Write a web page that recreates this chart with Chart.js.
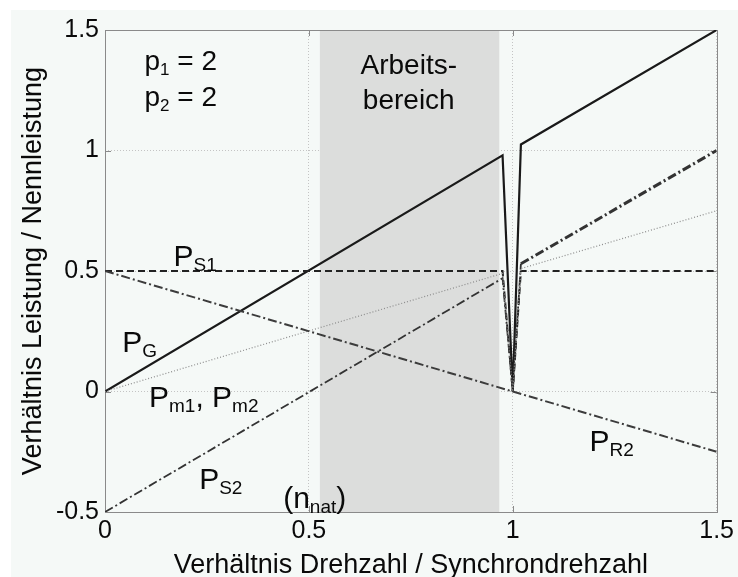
<!DOCTYPE html>
<html>
<head>
<meta charset="utf-8">
<script src="https://cdn.jsdelivr.net/npm/chart.js@4"></script>
<style>
  html, body { margin: 0; padding: 0; background: #ffffff; }
  #wrap { width: 738px; height: 577px; position: relative; }
</style>
</head>
<body>
<div id="wrap"><canvas id="leistungChart"></canvas></div>
<script>
// Drehzahl-Verhaeltnis (x) und Leistungs-Verhaeltnis (y) je Kurve
const xTicks = [0, 0.5, 1, 1.5];
const yTicks = [-0.5, 0, 0.5, 1, 1.5];

const nDip = [0, 0.975, 1.0, 1.02, 1.5];
const pG   = [0, 0.98, 0, 1.025, 1.5];
const pS1  = [0.5, 0.5, 0, 0.5, 0.5];
const pM   = [0, 0.49, 0, 0.51, 0.75];
const pS2  = [-0.5, 0.47, 0, 0.53, 1.0];

const nR2  = [0, 1.0, 1.5];
const pR2  = [0.5, 0, -0.25];

const workRange = [0.527, 0.967];  // Arbeitsbereich

const FONT = '"Liberation Sans", Arial, sans-serif';

function pts(xs, ys) {
    return xs.map((x, i) => ({ x: x, y: ys[i] }));
}

// Beschriftungen im Diagramm (y = Mitte der Grossbuchstaben)
const labels = [
    { x: 0.097, y: 1.375, size: 28, parts: [['p'], ['1', true], [' = 2']] },
    { x: 0.097, y: 1.225, size: 28, parts: [['p'], ['2', true], [' = 2']] },
    { x: 0.745, y: 1.36, size: 28, parts: [['Arbeits-']], center: true },
    { x: 0.745, y: 1.215, size: 28, parts: [['bereich']], center: true },
    { x: 0.168, y: 0.565, size: 30, parts: [['P'], ['S1', true]] },
    { x: 0.042, y: 0.21, size: 30, parts: [['P'], ['G', true]] },
    { x: 0.108, y: -0.02, size: 30, parts: [['P'], ['m1', true], [', P'], ['m2', true]] },
    { x: 0.231, y: -0.36, size: 30, parts: [['P'], ['S2', true]] },
    { x: 0.437, y: -0.44, size: 30, parts: [['(n'], ['nat', true], [')']] },
    { x: 1.188, y: -0.2, size: 30, parts: [['P'], ['R2', true]] }
];

const bgPlugin = {
    id: 'bgPlugin',
    beforeDraw(chart) {
        const ctx = chart.ctx;
        ctx.save();
        ctx.fillStyle = '#ffffff';
        ctx.fillRect(0, 0, chart.width, chart.height);
        ctx.fillStyle = '#f5f9f7';
        ctx.fillRect(11, 10, chart.width - 11, chart.height - 10);
        ctx.restore();
    },
    beforeDatasetsDraw(chart) {
        const ctx = chart.ctx;
        const a = chart.chartArea;
        const xs = chart.scales.x, ys = chart.scales.y;
        ctx.save();
        // Arbeitsbereich
        const x0 = xs.getPixelForValue(workRange[0]);
        const x1 = xs.getPixelForValue(workRange[1]);
        ctx.fillStyle = '#dcdddc';
        ctx.fillRect(x0, a.top, x1 - x0, a.bottom - a.top);

        // Rahmen
        ctx.strokeStyle = '#8a8a8a';
        ctx.lineWidth = 1;
        ctx.strokeRect(Math.round(a.left) + 0.5, Math.round(a.top) + 0.5,
            Math.round(a.right - a.left), Math.round(a.bottom - a.top));

        // Innenliegende Striche
        ctx.beginPath();
        xTicks.forEach(v => {
            const px = Math.round(xs.getPixelForValue(v)) + 0.5;
            ctx.moveTo(px, a.bottom); ctx.lineTo(px, a.bottom - 6);
            ctx.moveTo(px, a.top); ctx.lineTo(px, a.top + 6);
        });
        yTicks.forEach(v => {
            const py = Math.round(ys.getPixelForValue(v)) + 0.5;
            ctx.moveTo(a.left, py); ctx.lineTo(a.left + 6, py);
            ctx.moveTo(a.right, py); ctx.lineTo(a.right - 6, py);
        });
        ctx.stroke();
        ctx.restore();
    },
    afterDatasetsDraw(chart) {
        const ctx = chart.ctx;
        const xs = chart.scales.x, ys = chart.scales.y;
        ctx.save();
        ctx.fillStyle = '#0a0a0a';
        ctx.textBaseline = 'alphabetic';
        labels.forEach(l => {
            const subSize = Math.round(l.size * 0.62);
            let px = xs.getPixelForValue(l.x);
            const base = ys.getPixelForValue(l.y) + l.size * 0.36;
            let total = 0;
            l.parts.forEach(p => {
                ctx.font = (p[1] ? subSize : l.size) + 'px ' + FONT;
                total += ctx.measureText(p[0]).width;
            });
            if (l.center) px -= total / 2;
            l.parts.forEach(p => {
                ctx.font = (p[1] ? subSize : l.size) + 'px ' + FONT;
                ctx.fillText(p[0], px, p[1] ? base + 5 : base);
                px += ctx.measureText(p[0]).width;
            });
        });
        ctx.restore();
    }
};

const ctx = document.getElementById('leistungChart').getContext('2d');

const chart = new Chart(ctx, {
    type: 'scatter',
    data: {
        datasets: [
            {
                label: 'P_R2',
                data: pts(nR2, pR2),
                showLine: true,
                borderColor: '#3c3c3c',
                borderWidth: 2,
                borderDash: [9, 3, 2, 3],
                pointRadius: 0,
                fill: false
            },
            {
                label: 'P_m',
                data: pts(nDip, pM),
                showLine: true,
                borderColor: '#8c8c8c',
                borderWidth: 1.2,
                borderDash: [1, 2],
                pointRadius: 0,
                fill: false
            },
            {
                label: 'P_S2',
                data: pts(nDip, pS2),
                showLine: true,
                borderColor: '#333333',
                borderWidth: 1.8,
                borderDash: [9, 3, 2, 3],
                segment: {
                    borderWidth: c => c.p0.parsed.x >= 1.01 ? 3 : 1.8
                },
                pointRadius: 0,
                fill: false
            },
            {
                label: 'P_S1',
                data: pts(nDip, pS1),
                showLine: true,
                borderColor: '#222222',
                borderWidth: 2,
                borderDash: [7, 4],
                pointRadius: 0,
                fill: false
            },
            {
                label: 'P_G',
                data: pts(nDip, pG),
                showLine: true,
                borderColor: '#1a1a1a',
                borderWidth: 2.2,
                pointRadius: 0,
                fill: false
            }
        ]
    },
    options: {
        responsive: true,
        maintainAspectRatio: false,
        animation: false,
        layout: { padding: { left: 0, right: 19, top: 30, bottom: 0 } },
        plugins: {
            legend: { display: false },
            tooltip: { enabled: false }
        },
        scales: {
            x: {
                type: 'linear',
                min: 0,
                max: 1.5,
                afterBuildTicks: s => { s.ticks = xTicks.map(v => ({ value: v })); },
                afterFit: s => { s.height = 65; },
                grid: {
                    color: '#c4c4c4',
                    lineWidth: 1,
                    drawTicks: false
                },
                border: { display: false, dash: [1, 2] },
                ticks: {
                    padding: 4,
                    color: '#0a0a0a',
                    font: { family: FONT, size: 25 },
                    maxRotation: 0,
                    callback: v => String(v)
                },
                title: {
                    display: true,
                    text: 'Verhältnis Drehzahl / Synchrondrehzahl',
                    color: '#0a0a0a',
                    font: { family: FONT, size: 27 },
                    padding: { top: 0, bottom: -5 }
                }
            },
            y: {
                type: 'linear',
                min: -0.5,
                max: 1.5,
                afterBuildTicks: s => { s.ticks = yTicks.map(v => ({ value: v })); },
                afterFit: s => { s.width = 105; },
                grid: {
                    color: '#c4c4c4',
                    lineWidth: 1,
                    drawTicks: false
                },
                border: { display: false, dash: [1, 2] },
                ticks: {
                    padding: 6,
                    color: '#0a0a0a',
                    font: { family: FONT, size: 25 },
                    callback: v => String(v)
                },
                title: {
                    display: true,
                    text: 'Verhältnis Leistung / Nennleistung',
                    color: '#0a0a0a',
                    font: { family: FONT, size: 27 },
                    padding: { top: 17, bottom: 0 }
                }
            }
        }
    },
    plugins: [bgPlugin]
});
</script>
</body>
</html>
